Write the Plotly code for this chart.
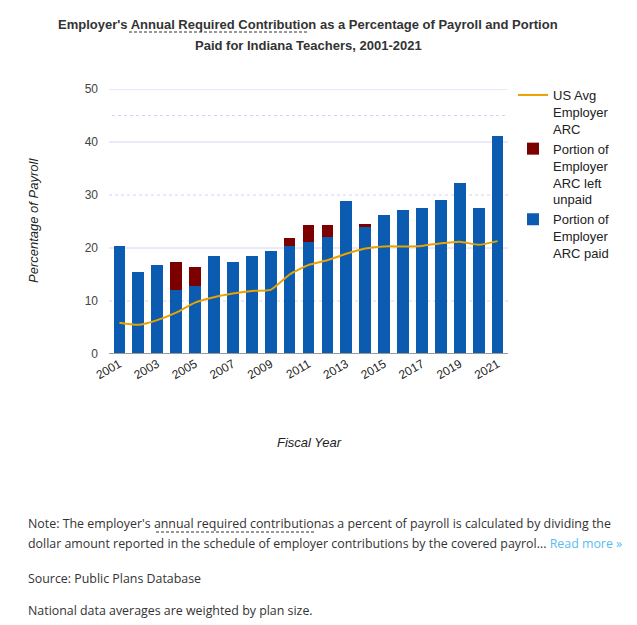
import plotly.graph_objects as go

years = list(range(2001, 2022))
paid = [20.4, 15.5, 16.7, 12.1, 12.9, 18.4, 17.4, 18.5, 19.5, 20.4, 21.2,
        22.1, 28.9, 24.0, 26.2, 27.2, 27.6, 29.1, 32.2, 27.6, 41.1]
unpaid = [0, 0, 0, 5.3, 3.6, 0, 0, 0, 0, 1.5, 3.1,
          2.2, 0, 0.6, 0, 0, 0, 0, 0, 0, 0]
us_avg = [5.9, 5.5, 6.4, 7.8, 9.7, 10.7, 11.4, 11.9, 12.1, 15.0, 16.8,
          17.7, 18.9, 19.9, 20.3, 20.3, 20.4, 20.9, 21.2, 20.6, 21.3]
tick_years = list(range(2001, 2022, 2))
y_ticks = [0, 10, 20, 30, 40, 50]
solid_grid = [20, 40, 50]
dotted_grid = [10, 30, 45]

# page body has an 8px margin; figure is shrunk so the picture lines up
OFF = 8
W, H = 637 - 2 * OFF, 625 - OFF
PL, PT, PW, PH = 109, 89, 399, 265  # plot area in window pixels


def px(x):
    return (x - PL) / PW


def py(y):
    return (PT + PH - y) / PH


fig = go.Figure()
fig.add_trace(go.Bar(x=years, y=paid, name="Portion of<br>Employer<br>ARC paid",
                     marker=dict(color="#0b5cb0", line=dict(width=0))))
fig.add_trace(go.Bar(x=years, y=unpaid, name="Portion of<br>Employer<br>ARC left<br>unpaid",
                     marker=dict(color="#7d0000", line=dict(width=0))))
fig.add_trace(go.Scatter(x=years, y=us_avg, name="US Avg<br>Employer<br>ARC", mode="lines",
                         line=dict(color="#e8a202", width=2, shape="spline", smoothing=0.5)))

shapes = []
for v in solid_grid:
    shapes.append(dict(type="line", xref="paper", x0=0, x1=1, yref="y", y0=v, y1=v,
                       line=dict(color="#d4d4f7", width=1), layer="below"))
for v in dotted_grid:
    shapes.append(dict(type="line", xref="paper", x0=px(112) if v == 45 else 0, x1=1, yref="y", y0=v, y1=v,
                       line=dict(color="#d4d4f7", width=1, dash="dot"), layer="below"))
shapes.append(dict(type="line", xref="paper", x0=0, x1=1, yref="y", y0=0, y1=0,
                   line=dict(color="#9a9a9a", width=2)))
# dashed underlines (title and note)
shapes.append(dict(type="line", xref="paper", yref="paper", x0=px(129), x1=px(308),
                   y0=py(32), y1=py(32), line=dict(color="#333", width=1, dash="3px,2px")))
shapes.append(dict(type="line", xref="paper", yref="paper", x0=px(156), x1=px(315),
                   y0=py(532), y1=py(532), line=dict(color="#333", width=1, dash="3px,2px")))

TF = "Arial, Liberation Sans"
NF = "Open Sans"
NS = 12.4


def ann(text, x, y, size, family, color, xanchor="center", **kw):
    return dict(text=text, x=px(x), y=py(y), xref="paper", yref="paper", showarrow=False,
                xanchor=xanchor, yanchor="middle", font=dict(family=family, size=size, color=color), **kw)


annotations = [
    ann("<b>Employer's Annual Required Contribution as a Percentage of Payroll and Portion</b>",
        308, 24, 13, TF, "#333"),
    ann("<b>Paid for Indiana Teachers, 2001-2021</b>", 308, 45, 13, TF, "#333"),
    ann("<i>Percentage of Payroll</i>", 33, 221, 13, TF, "#222", textangle=-90),
    ann("<i>Fiscal Year</i>", 309, 442, 13, TF, "#222"),
    ann("Note: The employer's annual required contributionas a percent of payroll is calculated by dividing the",
        26, 523, NS, NF, "#333", xanchor="left"),
    ann("dollar amount reported in the schedule of employer contributions by the covered payrol... "
        "<span style='color:#5bbcf0'>Read more »</span>", 26, 543, NS, NF, "#333", xanchor="left"),
    ann("Source: Public Plans Database", 26, 578, NS, NF, "#333", xanchor="left"),
    ann("National data averages are weighted by plan size.", 26, 610, NS, NF, "#333", xanchor="left"),
]

fig.update_layout(
    width=W, height=H,
    margin=dict(l=PL - OFF, r=W - (PL - OFF) - PW, t=PT - OFF, b=H - (PT - OFF) - PH),
    paper_bgcolor="white", plot_bgcolor="white",
    barmode="stack", bargap=0.38,
    font=dict(family=TF, size=12, color="#444"),
    showlegend=True,
    legend=dict(x=px(513), y=py(80), xanchor="left", yanchor="top", traceorder="reversed",
                font=dict(family=TF, size=13, color="#222"), valign="top",
                itemwidth=30, bgcolor="rgba(0,0,0,0)"),
    shapes=shapes,
    annotations=annotations,
    xaxis=dict(range=[2000.45, 2021.55], tickvals=tick_years, ticktext=[str(t) for t in tick_years],
               tickangle=-30, showgrid=False, zeroline=False, showline=False, automargin=False,
               ticks="", tickfont=dict(size=12, color="#222")),
    yaxis=dict(range=[0, 50], tickvals=y_ticks, showgrid=False, zeroline=False, showline=False,
               automargin=False, tickfont=dict(size=12, color="#444"), ticks="",
               ticklabelstandoff=10),
)

fig.write_html("out.html")
